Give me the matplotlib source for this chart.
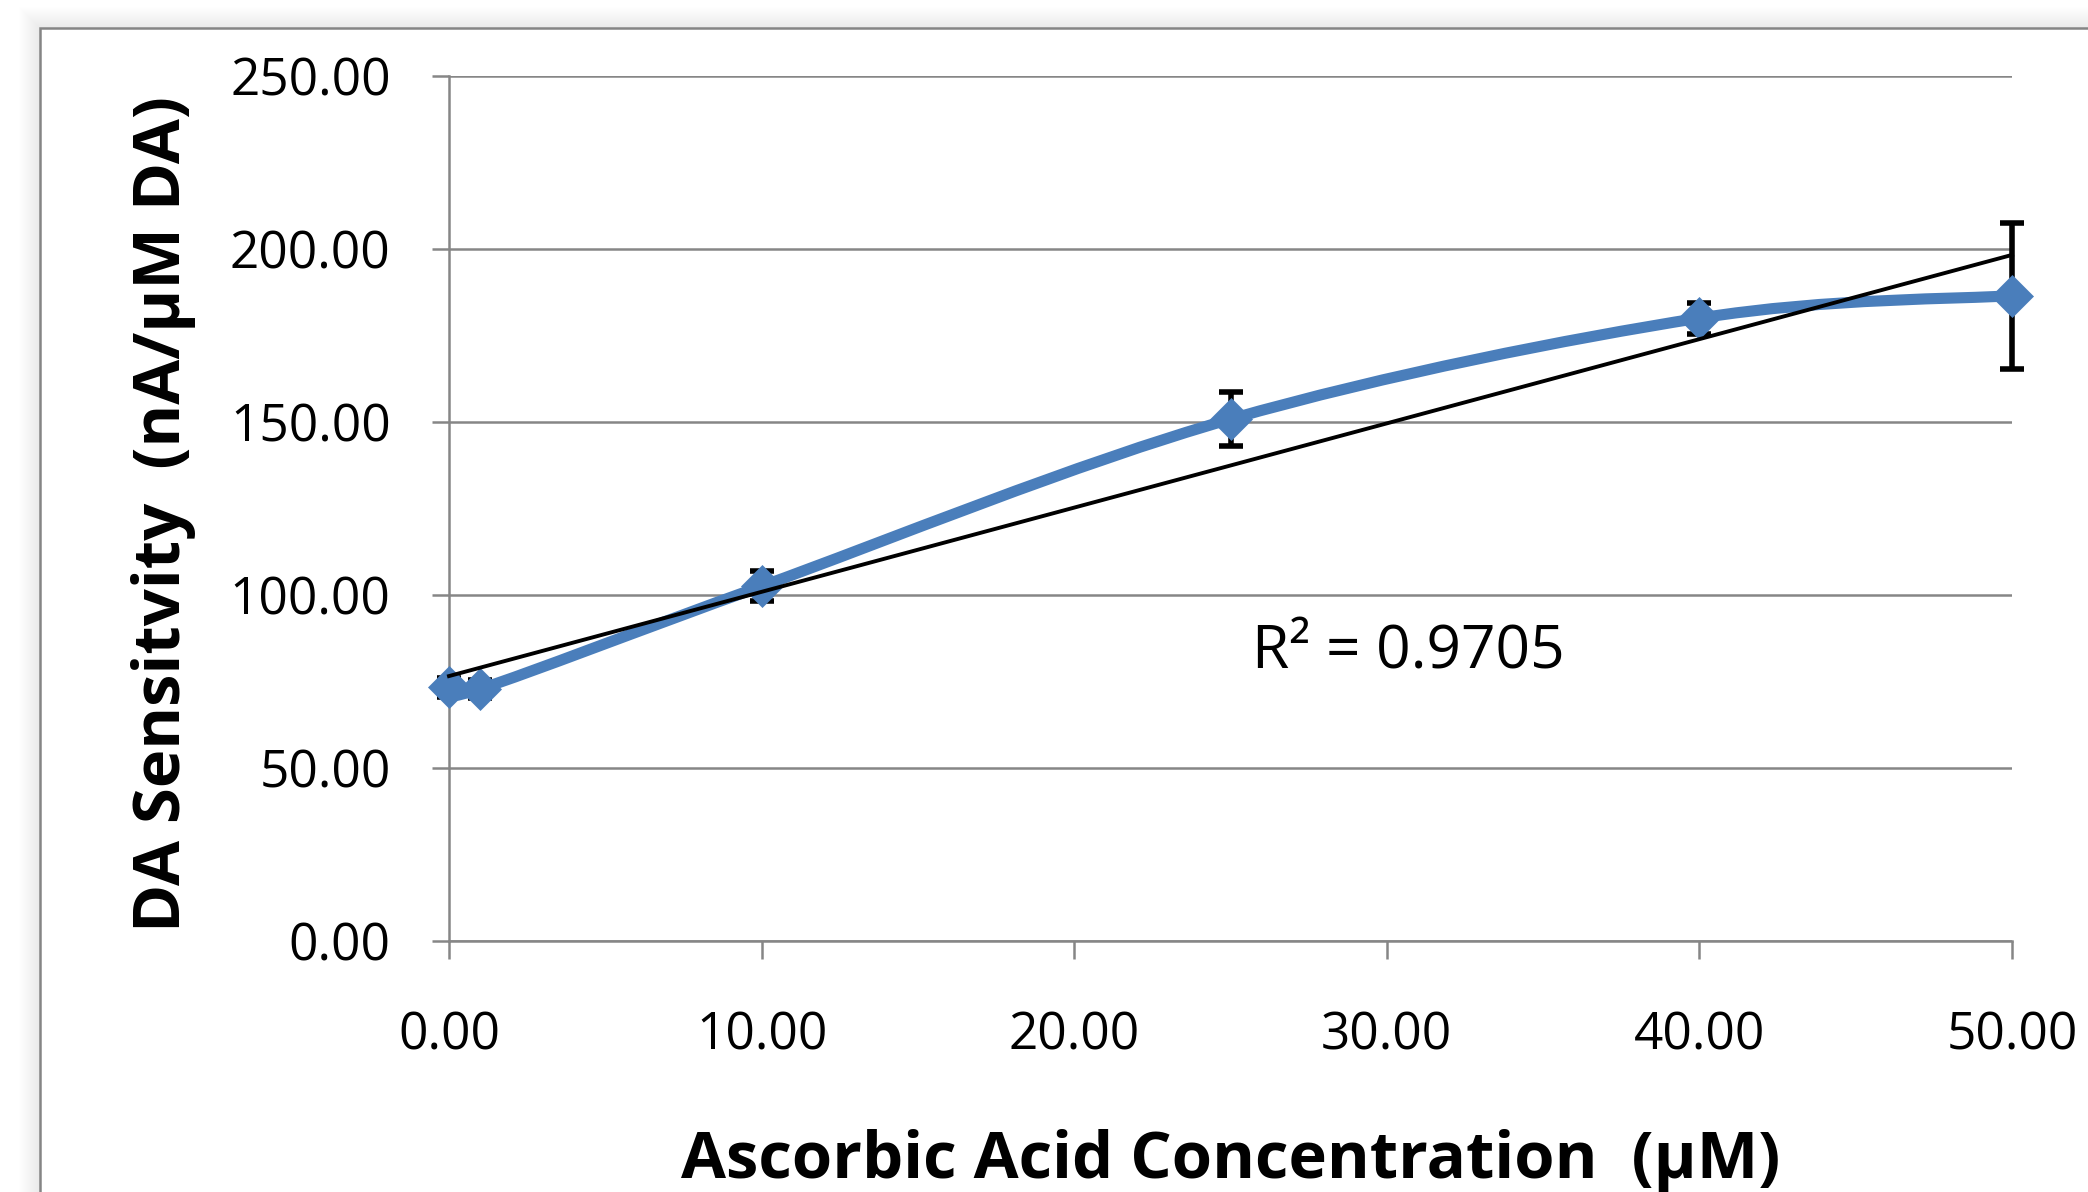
import numpy as np
import matplotlib
matplotlib.use('Agg')
import matplotlib.pyplot as plt
from matplotlib.path import Path
from matplotlib.patches import PathPatch, Rectangle

# ---- data ----
conc = [0, 1, 10, 25, 40, 50]
sens = [73.3, 72.8, 102.5, 150.8, 180.0, 186.5]
err = [2.7, 2.7, 4.4, 7.7, 4.5, 21.1]
x_ticks = [0, 10, 20, 30, 40, 50]
y_ticks = [0, 50, 100, 150, 200, 250]
r2_label = "R\u00b2 = 0.9705"
x_label = "Ascorbic Acid Concentration  (\u00b5M)"
y_label = "DA Sensitvity  (nA/\u00b5M DA)"

plt.rcParams['font.family'] = ['Open Sans', 'DejaVu Sans']

W, H = 2088, 1192
fig = plt.figure(figsize=(W / 100, H / 100), dpi=100)
fig.patch.set_facecolor('white')

# chart-area frame with soft shadow (pixel positions converted to figure fractions)
fl, ft = 40, 28
for i in range(1, 22):
    fig.patches.append(Rectangle(((fl - i) / W, -0.1), 1.5, (H - ft + i) / H + 0.1,
                                 transform=fig.transFigure, facecolor='black',
                                 edgecolor='none', alpha=0.004, zorder=-12))
fig.patches.append(Rectangle((fl / W, -0.1), 1.5, (H - ft) / H + 0.1,
                             transform=fig.transFigure, facecolor='white',
                             edgecolor='#858585', linewidth=1.8, zorder=-11))

GRID = '#868686'
BLUE = '#4A7EBB'

ax = fig.add_axes([449 / W, (H - 940.7) / H, (2012 - 449) / W, (940.7 - 76) / H])
ax.set_facecolor('none')
ax.set_xlim(0, 50)
ax.set_ylim(0, 250)

for s in ['top', 'right']:
    ax.spines[s].set_visible(False)
for s in ['left', 'bottom']:
    ax.spines[s].set_color(GRID)
    ax.spines[s].set_linewidth(1.8)

ax.set_xticks(x_ticks)
ax.set_xticklabels([f"{v:.2f}" for v in x_ticks])
ax.set_yticks(y_ticks)
ax.set_yticklabels([f"{v:.2f}" for v in y_ticks])
ax.tick_params(axis='x', direction='out', length=13, width=1.8, color=GRID,
               pad=37, labelsize=37, labelcolor='black')
ax.tick_params(axis='y', direction='out', length=12, width=1.8, color=GRID,
               pad=30, labelsize=37, labelcolor='black')
ax.yaxis.grid(True, color=GRID, linewidth=1.8)
ax.set_axisbelow(True)

# error bars
ax.errorbar(conc, sens, yerr=err, fmt='none', ecolor='black', elinewidth=4,
            capsize=8.5, capthick=4, zorder=2, clip_on=False)

# smoothed series line (Excel-style Catmull-Rom Bezier)
pts = np.column_stack([conc, sens]).astype(float)
ext = np.vstack([pts[0], pts, pts[-1]])
verts = [pts[0]]
codes = [Path.MOVETO]
for i in range(len(pts) - 1):
    p0, p1, p2, p3 = ext[i], ext[i + 1], ext[i + 2], ext[i + 3]
    c1 = p1 + (p2 - p0) / 6.0
    c2 = p2 - (p3 - p1) / 6.0
    verts += [c1, c2, p2]
    codes += [Path.CURVE4] * 3
ax.add_patch(PathPatch(Path(verts, codes), facecolor='none', edgecolor=BLUE,
                       linewidth=8, zorder=3, clip_on=False,
                       capstyle='round', joinstyle='round'))
ax.plot(conc, sens, linestyle='none', marker='D', markersize=21,
        color=BLUE, markeredgewidth=0.5, zorder=4, clip_on=False)

# linear trendline
coef = np.polyfit(conc, sens, 1)
tx = np.array([min(conc), max(conc)])
ax.plot(tx, np.polyval(coef, tx), color='black', linewidth=2.8, zorder=5,
        clip_on=False)

ax.text(25.7, 78.8, r2_label, fontsize=43.5, ha='left', va='baseline')

fig.text(1231 / W, 14 / H, x_label, ha='center', va='baseline', fontsize=47,
         fontweight='bold')
fig.text(180 / W, (H - 514) / H, y_label, rotation=90, rotation_mode='anchor',
         ha='center', va='baseline', fontsize=47, fontweight='bold')

fig.savefig('out.png', dpi=100)
